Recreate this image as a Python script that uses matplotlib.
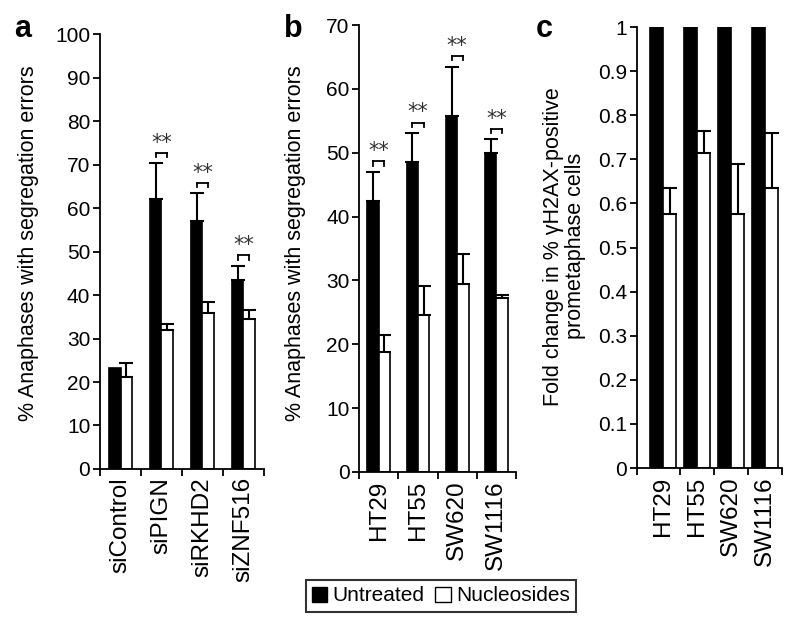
import numpy as np
import matplotlib
matplotlib.use("Agg")
import matplotlib.pyplot as plt
import matplotlib.transforms as mtransforms
from matplotlib.patches import Patch

plt.rcParams['font.family'] = ['Liberation Sans', 'DejaVu Sans']

# panel a
a_labels = ["siControl", "siPIGN", "siRKHD2", "siZNF516"]
a_untreated = [23.3, 62.0, 56.9, 43.4]
a_untreated_err = [0.0, 8.3, 6.5, 3.3]
a_nucleo = [21.1, 32.0, 35.8, 34.5]
a_nucleo_err = [3.2, 1.3, 2.7, 2.1]
a_sig = [1, 2, 3]

# panel b
b_labels = ["HT29", "HT55", "SW620", "SW1116"]
b_untreated = [42.4, 48.5, 55.8, 50.0]
b_untreated_err = [4.6, 4.6, 7.7, 2.1]
b_nucleo = [18.8, 24.6, 29.5, 27.3]
b_nucleo_err = [2.7, 4.5, 4.6, 0.4]
b_sig = [0, 1, 2, 3]

# panel c
c_labels = ["HT29", "HT55", "SW620", "SW1116"]
c_untreated = [1.0, 1.0, 1.0, 1.0]
c_nucleo = [0.575, 0.715, 0.575, 0.635]
c_nucleo_err = [0.06, 0.05, 0.115, 0.125]

ylab = "% Anaphases with segregation errors"
ylab_c = "Fold change in % \u03b3H2AX-positive\nprometaphase cells"

fig = plt.figure(figsize=(8, 6.24), dpi=100)
ax_a = fig.add_axes([0.125, 0.2484, 0.205, 0.6971])
ax_b = fig.add_axes([0.449, 0.2436, 0.196, 0.7163])
ax_c = fig.add_axes([0.796, 0.25, 0.1815, 0.7067])


def panel(ax, labels, black, white, black_err, white_err, w, x0, ylim, yticks, yfmt):
    n = len(labels)
    centers = np.arange(n) + 0.5
    xb = centers - w / 2
    xw = centers + w / 2
    ax.bar(xb, black, w, color='black', edgecolor='black', linewidth=1.2, zorder=2)
    ax.bar(xw, white, w, color='white', edgecolor='black', linewidth=1.2, zorder=2)
    if black_err is not None:
        be = np.array(black_err)
        m = be > 0
        ax.errorbar(xb[m], np.array(black)[m], yerr=[np.zeros(m.sum()), be[m]], fmt='none',
                    ecolor='black', elinewidth=1.5, capsize=5, capthick=1.5, zorder=3)
    ax.errorbar(xw, white, yerr=[np.zeros(n), white_err], fmt='none',
                ecolor='black', elinewidth=1.5, capsize=5, capthick=1.5, zorder=3)
    ax.set_xlim(x0, n)
    ax.set_ylim(*ylim)
    ax.set_xticks([x0] + list(range(1, n + 1)))
    ax.set_xticklabels([])
    ax.set_xticks(centers, minor=True)
    ax.set_xticklabels(labels, minor=True, rotation=90, fontsize=17.5)
    ax.tick_params(axis='x', which='minor', length=0, pad=6)
    ax.tick_params(axis='x', which='major', length=5, width=1.3, direction='out')
    ax.set_yticks(yticks)
    ax.set_yticklabels([yfmt(v) for v in yticks], fontsize=15)
    ax.tick_params(axis='y', length=5, width=1.3, direction='out', pad=2)
    for s in ['top', 'right']:
        ax.spines[s].set_visible(False)
    for s in ['left', 'bottom']:
        ax.spines[s].set_linewidth(1.3)
    return xb, xw


def bracket(ax, xb, xw, tops, idx):
    t_hi = mtransforms.offset_copy(ax.transData, fig=fig, y=7.5, units='points')
    t_lo = mtransforms.offset_copy(ax.transData, fig=fig, y=4.5, units='points')
    t_txt = mtransforms.offset_copy(ax.transData, fig=fig, y=10.5, units='points')
    for i in idx:
        x1, x2 = xb[i], xw[i]
        y = tops[i]
        ax.plot([x1, x2], [y, y], transform=t_hi, color='black', lw=1.3, clip_on=False)
        # small down ticks at both ends
        for xx in (x1, x2):
            p_hi = t_hi.transform((xx, y))
            p_lo = t_lo.transform((xx, y))
            ax.plot([p_hi[0], p_lo[0]], [p_hi[1], p_lo[1]], transform=None,
                    color='black', lw=1.3, clip_on=False)
        ax.text((x1 + x2) / 2, y, "**", transform=t_txt, ha='center', va='baseline',
                fontsize=15, color='#333333', family='DejaVu Sans')


xb, xw = panel(ax_a, a_labels, a_untreated, a_nucleo, a_untreated_err, a_nucleo_err,
               0.29, 0, (0, 100), np.arange(0, 101, 10), lambda v: "%d" % v)
tops_a = np.array(a_untreated) + np.array(a_untreated_err)
bracket(ax_a, xb, xw, tops_a, a_sig)
ax_a.set_ylabel(ylab, fontsize=15.5)
ax_a.yaxis.set_label_coords(-0.37, 0.52)

xb, xw = panel(ax_b, b_labels, b_untreated, b_nucleo, b_untreated_err, b_nucleo_err,
               0.29, 0, (0, 70), np.arange(0, 71, 10), lambda v: "%d" % v)
tops_b = np.array(b_untreated) + np.array(b_untreated_err)
bracket(ax_b, xb, xw, tops_b, b_sig)
ax_b.set_ylabel(ylab, fontsize=15.5)
ax_b.yaxis.set_label_coords(-0.34, 0.512)

xb, xw = panel(ax_c, c_labels, c_untreated, c_nucleo, None, c_nucleo_err,
               0.39, -0.28, (0, 1), np.round(np.arange(0, 1.01, 0.1), 1),
               lambda v: "%g" % v)
ax_c.set_ylabel(ylab_c, fontsize=15.5, linespacing=1.05)
ax_c.yaxis.set_label_coords(-0.35, 0.503)

fig.text(0.018, 0.941, "a", fontsize=22, fontweight='bold', va='baseline')
fig.text(0.355, 0.941, "b", fontsize=22, fontweight='bold', va='baseline')
fig.text(0.670, 0.941, "c", fontsize=22, fontweight='bold', va='baseline')

handles = [Patch(facecolor='black', edgecolor='black', label='Untreated'),
           Patch(facecolor='white', edgecolor='black', label='Nucleosides')]
leg = fig.legend(handles=handles, loc='center', bbox_to_anchor=(0.551, 0.045), ncol=2,
                 fontsize=15, frameon=True, fancybox=False, edgecolor='black',
                 handlelength=0.75, handleheight=0.75, handletextpad=0.25,
                 columnspacing=0.5, borderpad=0.3, borderaxespad=0)
leg.get_frame().set_linewidth(1.5)

fig.savefig("out.png", dpi=100)
